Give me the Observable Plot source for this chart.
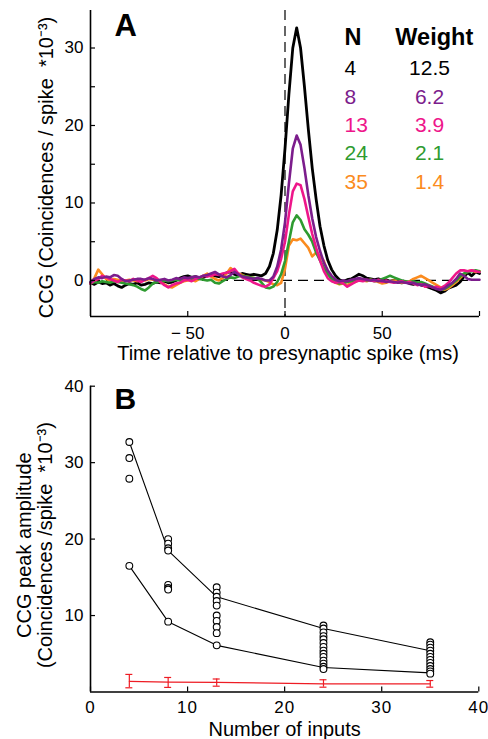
<!DOCTYPE html>
<html><head><meta charset="utf-8">
<script src="https://cdn.jsdelivr.net/npm/d3@7"></script>
<script src="https://cdn.jsdelivr.net/npm/@observablehq/plot@0.6"></script>
<style>
body{margin:0;background:#fff;}
#wrap{position:relative;width:488px;height:739px;}
#wrap svg{position:absolute;left:0;}
</style></head><body><div id="wrap"></div>
<script>
const FONT = '"Liberation Sans", Arial, Helvetica, sans-serif';

// ---------- Panel A data ----------
const timeMs = [-100,-98,-96,-94,-92,-90,-88,-86,-84,-82,-80,-78,-76,-74,-72,-70,-68,-66,-64,-62,-60,-58,-56,-54,-52,-50,-48,-46,-44,-42,-40,-38,-36,-34,-32,-30,-28,-26,-24,-22,-20,-18,-16,-14,-12,-10,-8,-6,-4,-2,0,2,4,6,8,10,12,14,16,18,20,22,24,26,28,30,32,34,36,38,40,42,44,46,48,50,52,54,56,58,60,62,64,66,68,70,72,74,76,78,80,82,84,86,88,90,92,94,96,98,100];

const ccgN4 = [
 -0.3,-0.5,-0.2,-0.4,-0.3,-0.6,-0.4,-0.7,-0.9,-0.6,
 -0.4,-0.5,-0.3,-0.6,-0.5,-0.3,-0.4,-0.2,-0.3,-0.1,
 -0.3,-0.2,0.0,0.3,0.5,0.6,0.4,0.5,0.3,0.4,
 0.6,0.7,0.6,0.5,0.7,1.0,1.1,0.8,0.7,0.9,
 0.8,0.7,0.8,0.7,0.6,0.9,1.8,3.5,6.5,11.0,
 17.0,24.0,30.0,32.6,30.0,25.0,19.5,14.5,10.5,7.0,
 4.5,2.6,1.4,0.6,0.1,-0.1,0.1,0.2,0.5,0.8,
 0.6,0.3,0.2,0.1,0.2,0.0,0.1,-0.1,0.0,-0.2,
 -0.3,-0.2,-0.4,-0.5,-0.3,-0.6,-0.7,-0.9,-1.1,-1.3,
 -1.6,-1.4,-1.0,-0.8,-0.6,-0.2,0.5,1.0,0.6,1.1,
 0.9];
const ccgN8 = [
 -0.2,0.2,0.4,0.3,0.5,0.4,0.7,0.6,0.2,-0.1,
 0.0,0.1,0.2,0.2,0.1,0.3,0.2,0.0,0.1,0.2,
 0.0,0.1,0.3,0.2,0.4,0.3,0.4,0.5,0.4,0.6,
 0.7,0.9,1.1,0.8,0.5,0.4,0.7,1.1,0.8,0.5,
 0.4,0.3,0.2,0.3,0.2,0.0,0.0,0.5,1.8,4.0,
 7.5,12.5,17.0,18.7,17.5,14.5,11.0,8.0,5.6,3.8,
 2.3,1.3,0.6,0.1,-0.1,0.0,-0.1,0.1,0.2,0.3,
 0.2,0.1,0.0,0.1,-0.1,0.0,-0.2,-0.1,-0.2,-0.3,
 -0.2,-0.3,-0.4,-0.3,-0.5,-0.6,-0.5,-0.7,-0.9,-1.1,
 -1.2,-1.0,-0.6,-0.3,0.2,0.9,0.6,0.2,0.1,0.1,
 0.1];
const ccgN13 = [
 -0.4,0.0,0.2,0.6,0.4,0.2,0.0,-0.2,0.1,0.0,
 -0.1,0.2,0.0,-0.2,0.1,0.3,0.6,0.3,-0.2,-0.6,
 -0.9,-0.6,-0.4,-0.3,0.0,0.1,-0.1,0.2,0.4,0.6,
 0.5,0.6,0.8,0.7,0.9,1.0,1.2,1.5,0.9,0.4,
 0.2,0.0,-0.3,-0.5,-0.7,-0.8,-0.5,0.3,1.2,2.8,
 5.0,8.5,11.5,12.5,12.3,10.5,8.2,6.0,4.2,2.6,
 1.2,0.3,-0.1,-0.3,-0.2,-0.4,-0.8,-0.5,-0.2,0.0,
 -0.1,0.1,0.0,-0.1,0.1,-0.2,0.0,-0.2,-0.3,-0.2,
 -0.1,-0.3,-0.2,-0.4,-0.6,-0.5,-0.8,-0.7,-0.9,-0.8,
 -1.0,-0.7,-0.3,0.3,0.9,1.3,1.3,1.2,1.3,1.2,
 1.1];
const ccgN24 = [
 -0.4,-0.2,-0.3,-0.1,-0.2,-0.3,-0.1,-0.2,-0.3,-0.4,
 -0.5,-0.6,-0.8,-1.1,-1.3,-0.9,-0.4,-0.2,-0.1,0.0,
 -0.1,0.0,0.1,0.0,0.2,0.1,0.2,0.3,0.2,0.1,
 0.0,0.1,-0.3,-0.4,-0.1,0.2,0.4,0.3,0.5,0.6,
 0.5,0.4,0.3,0.2,-0.3,-0.9,-1.0,-0.8,-0.2,0.8,
 2.5,5.0,7.5,8.4,7.8,6.6,5.9,5.0,3.6,2.6,
 1.6,0.8,0.2,-0.2,-0.4,-0.3,-0.2,-0.1,0.0,0.1,
 0.2,0.0,0.1,-0.1,0.0,0.2,0.4,0.6,0.4,0.2,
 0.0,-0.1,-0.2,-0.1,-0.3,-0.2,-0.4,-0.6,-0.8,-1.0,
 -1.2,-1.1,-0.8,-0.4,0.0,0.5,0.9,1.1,1.2,1.3,
 1.2];
const ccgN35 = [
 -0.4,0.3,1.4,0.8,0.2,0.0,0.2,0.1,-0.1,0.0,
 0.1,0.0,-0.1,0.1,0.0,0.2,0.1,0.0,-0.2,-0.5,
 -0.8,-0.9,-0.6,-0.3,-0.1,0.0,0.1,-0.1,0.2,0.6,
 0.9,0.5,0.2,0.0,0.3,0.9,1.6,1.2,0.9,0.7,
 0.5,0.4,0.3,0.2,0.1,0.0,-0.2,-0.5,-0.6,-0.3,
 1.5,4.5,5.3,5.2,5.4,4.8,4.2,3.1,3.6,3.2,
 2.5,1.0,0.2,-0.3,-0.5,-0.4,-0.6,-0.3,-0.2,0.1,
 0.0,-0.1,0.1,0.0,-0.2,-0.4,-0.3,-0.1,0.0,-0.2,
 -0.3,-0.2,-0.1,0.2,0.4,0.6,0.3,0.0,-0.3,-0.6,
 -0.9,-1.2,-1.0,-0.6,-0.2,0.3,0.8,1.2,1.3,1.1,
 1.2];

const seriesN = ["4","8","13","24","35"];
const seriesWeight = ["12.5","6.2","3.9","2.1","1.4"];
const seriesColor = ["#000000","#7c1d8c","#ee168a","#2e9b30","#fb8b1e"];
const ccgSeries = [ccgN4, ccgN8, ccgN13, ccgN24, ccgN35];
const drawOrder = [0, 4, 3, 2, 1];

const xDomainA = [-100, 100];
const yDomainA = [-4.65, 34.84];
const xTicksA = [-50, 0, 50, 100];
const xTickLabelsA = ["\u2212 50", "0", "50", ""];
const yTicksA = [0, 5, 10, 15, 20, 25, 30];
const yTickLabelsA = ["0", "", "10", "", "20", "", "30"];
const xLabelA = "Time relative to presynaptic spike (ms)";
const yLabelA = "CCG (Coincidences / spike  *10\u207B\u00B3)";

// ---------- Panel B data ----------
const nInputs = [4, 8, 13, 24, 35];
const amp4 = [32.7, 30.6, 27.9, 16.5];
const amp8 = [20.0, 19.4, 18.8, 18.5, 14.0, 13.6, 13.4, 9.2];
const amp13 = [13.7, 13.0, 12.45, 11.9, 11.3, 10.0, 9.3, 8.5, 7.7, 6.1];
const amp24 = [8.7, 8.3, 7.8, 7.3, 6.9, 6.4, 5.9, 5.4, 5.0, 4.6, 4.1, 3.7, 3.3, 3.0];
const amp35 = [6.5, 6.2, 5.8, 5.4, 5.0, 4.6, 4.2, 3.8, 3.4, 3.0, 2.7, 2.4];
const upperLine = [32.7, 18.5, 12.45, 8.3, 5.4];
const lowerLine = [16.5, 9.2, 6.1, 3.2, 2.5];
const ctrlMean = [1.4, 1.28, 1.25, 1.07, 1.07];
const ctrlLow = [0.55, 0.6, 0.76, 0.63, 0.63];
const ctrlHigh = [2.3, 1.9, 1.7, 1.6, 1.5];

const xDomainB = [0, 40];
const yDomainB = [0, 40];
const xTicksB = [0, 10, 20, 30, 40];
const yTicksB = [10, 20, 30, 40];
const xLabelB = "Number of inputs";
const yLabelB = "CCG peak amplitude\n(Coincidences /spike  *10\u207B\u00B3)";

// ---------- build ----------
const wrap = document.getElementById("wrap");
const baseStyle = {fontFamily: FONT, fontSize: "17px", color: "#000", background: "transparent", overflow: "visible"};

const traceMarks = drawOrder.map(k => Plot.line(timeMs, {
  x: t => t, y: (t, i) => ccgSeries[k][i],
  stroke: seriesColor[k], strokeWidth: k === 0 ? 2.8 : 2.6, strokeLinejoin: "round"
}));

const legendMarks = [
  Plot.text(["N"], {text: d => d, frameAnchor: "top-left", textAnchor: "start", lineAnchor: "top", dx: 254, dy: 17.7, fontSize: 23.5, fontWeight: "bold"}),
  Plot.text(["Weight"], {text: d => d, frameAnchor: "top-left", textAnchor: "middle", lineAnchor: "top", dx: 343.8, dy: 17.7, fontSize: 23.5, fontWeight: "bold"}),
  ...seriesN.map((n, k) => Plot.text([n], {text: d => d, frameAnchor: "top-left", textAnchor: "start", lineAnchor: "top", dx: 254, dy: 50 + 28.3 * k, fontSize: 21, fill: seriesColor[k]})),
  ...seriesWeight.map((w, k) => Plot.text([w], {text: d => d, frameAnchor: "top-left", textAnchor: "middle", lineAnchor: "top", dx: 339, dy: 50 + 28.3 * k, fontSize: 21, fill: seriesColor[k]}))
];

const plotA = Plot.plot({
  width: 488, height: 370,
  marginLeft: 90, marginRight: 9, marginTop: 10, marginBottom: 54,
  style: baseStyle,
  x: {domain: xDomainA},
  y: {domain: yDomainA},
  marks: [
    Plot.ruleX([0], {stroke: "#000", strokeWidth: 1.2, strokeDasharray: "10,6"}),
    Plot.ruleY([0], {stroke: "#000", strokeWidth: 1.2, strokeDasharray: "10,6"}),
    ...traceMarks,
    Plot.ruleX([xDomainA[0]], {stroke: "#000", strokeWidth: 1.6}),
    Plot.ruleY([yDomainA[0]], {stroke: "#000", strokeWidth: 1.6}),
    Plot.axisX({ticks: xTicksA, tickFormat: (d) => xTickLabelsA[xTicksA.indexOf(d)], tickSize: -5, tickPadding: 15.7, fontSize: 17, label: null, strokeWidth: 1.2}),
    Plot.axisY({ticks: yTicksA, tickFormat: (d) => yTickLabelsA[yTicksA.indexOf(d)], tickSize: -5, tickPadding: 12, fontSize: 17, label: null, strokeWidth: 1.2}),
    Plot.text([xLabelA], {text: d => d, frameAnchor: "bottom", textAnchor: "middle", lineAnchor: "top", dy: 29, dx: 3, fontSize: 20}),
    Plot.text([yLabelA], {text: d => d, frameAnchor: "left", textAnchor: "middle", rotate: -90, lineAnchor: "middle", dx: -44, dy: 4, fontSize: 20}),
    Plot.text(["A"], {text: d => d, frameAnchor: "top-left", textAnchor: "start", lineAnchor: "top", dx: 24, dy: 3, fontSize: 31, fontWeight: "bold"}),
    ...legendMarks
  ]
});
plotA.style.top = "0px";
wrap.appendChild(plotA);

const groups = [amp4, amp8, amp13, amp24, amp35];
const dotsB = groups.flatMap((arr, k) => arr.map(a => ({n: nInputs[k], amp: a})));
const upperB = nInputs.map((n, k) => ({n, amp: upperLine[k]}));
const lowerB = nInputs.map((n, k) => ({n, amp: lowerLine[k]}));
const ctrlB = nInputs.map((n, k) => ({n, mean: ctrlMean[k], lo: ctrlLow[k], hi: ctrlHigh[k]}));
const RED = "#ee1c24";

const plotB = Plot.plot({
  width: 488, height: 369,
  marginLeft: 90, marginRight: 9.7, marginTop: 15.7, marginBottom: 47.5,
  style: baseStyle,
  x: {domain: xDomainB},
  y: {domain: yDomainB},
  marks: [
    Plot.line(upperB, {x: "n", y: "amp", stroke: "#000", strokeWidth: 1.1}),
    Plot.line(lowerB, {x: "n", y: "amp", stroke: "#000", strokeWidth: 1.1}),
    Plot.dot(dotsB, {x: "n", y: "amp", r: 3.4, stroke: "#000", strokeWidth: 1.1, fill: "#fff"}),
    Plot.line(ctrlB, {x: "n", y: "mean", stroke: RED, strokeWidth: 1.2}),
    Plot.ruleX(ctrlB, {x: "n", y1: "lo", y2: "hi", stroke: RED, strokeWidth: 1.2}),
    Plot.ruleY(ctrlB, {y: "hi", x1: "n", x2: "n", insetLeft: -3.5, insetRight: -3.5, stroke: RED, strokeWidth: 1.2}),
    Plot.ruleY(ctrlB, {y: "lo", x1: "n", x2: "n", insetLeft: -3.5, insetRight: -3.5, stroke: RED, strokeWidth: 1.2}),
    Plot.ruleX([xDomainB[0]], {stroke: "#000", strokeWidth: 1.6}),
    Plot.ruleY([yDomainB[0]], {stroke: "#000", strokeWidth: 1.6}),
    Plot.axisX({ticks: xTicksB, tickFormat: d => String(d), tickSize: -5, tickPadding: 13.5, fontSize: 17, label: null, strokeWidth: 1.2}),
    Plot.axisY({ticks: yTicksB, tickFormat: d => String(d), tickSize: -5, tickPadding: 12, fontSize: 17, label: null, strokeWidth: 1.2}),
    Plot.text([xLabelB], {text: d => d, frameAnchor: "bottom", textAnchor: "middle", lineAnchor: "top", dy: 30.2, fontSize: 20}),
    Plot.text([yLabelB], {text: d => d, frameAnchor: "left", textAnchor: "middle", rotate: -90, lineAnchor: "middle", dx: -56, dy: 6, fontSize: 20, lineHeight: 1.05}),
    Plot.text(["B"], {text: d => d, frameAnchor: "top-left", textAnchor: "start", lineAnchor: "top", dx: 24, dy: 1, fontSize: 30, fontWeight: "bold"})
  ]
});
plotB.style.top = "370px";
wrap.appendChild(plotB);
d3.select(plotB).selectAll('[aria-label="x-axis tick label"] text').attr("letter-spacing", "1px");
</script>
</body></html>
